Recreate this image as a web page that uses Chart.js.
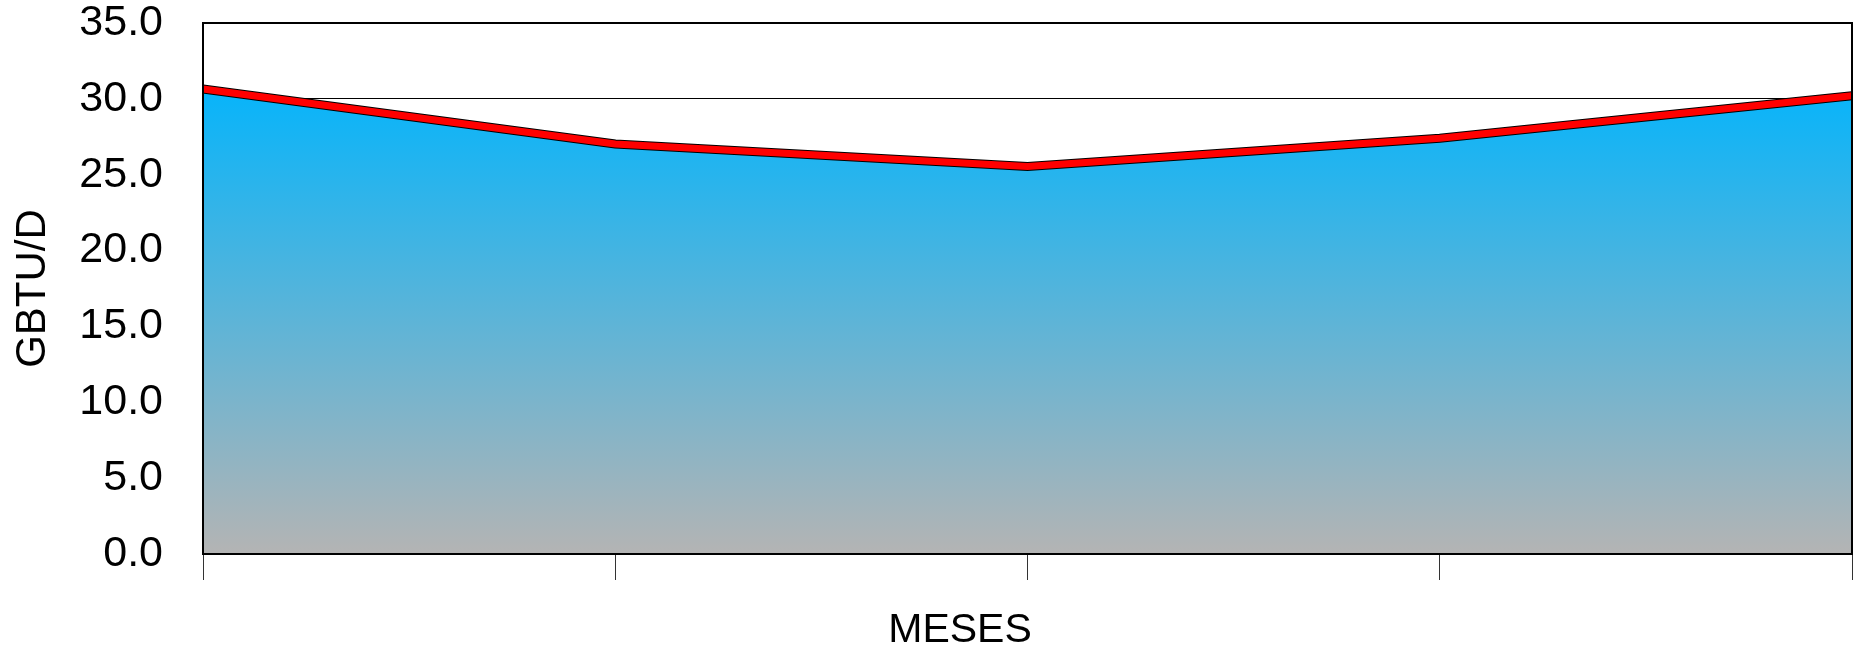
<!DOCTYPE html>
<html lang="es">
<head>
    <meta charset="UTF-8">
    <title>GBTU/D</title>
    <style>
        body { margin: 0; background: #fff; }
    </style>
</head>
<body>
    <canvas id="myChart" width="1863" height="648"></canvas>

    <script src="https://cdn.jsdelivr.net/npm/chart.js"></script>
    <script>
// months are unlabeled in the original
const meses = ['', '', '', '', ''];
const gbtud = [30.65, 27.03, 25.54, 27.4, 30.2];
const yTicks = [0, 5, 10, 15, 20, 25, 30, 35];

const FONT = "'Liberation Sans', Arial, sans-serif";

// gradient blue at top to gray at the base
function areaFill(context) {
    const chart = context.chart;
    const area = chart.chartArea;
    if (!area) return '#3bb3e6';
    const y = chart.scales.y;
    const g = chart.ctx.createLinearGradient(0, y.getPixelForValue(31), 0, area.bottom);
    g.addColorStop(0, '#05b4fb');
    g.addColorStop(1, '#b4b4b4');
    return g;
}

const frame = {
    id: 'frame',
    afterDraw(chart) {
        const c = chart.ctx;
        const a = chart.chartArea;
        c.save();
        c.strokeStyle = '#000';
        c.lineWidth = 2;
        c.strokeRect(a.left, a.top, a.right - a.left, a.bottom - a.top);
        c.fillStyle = '#000';
        c.font = '41px ' + FONT;
        c.textAlign = 'center';
        c.textBaseline = 'alphabetic';
        c.fillText('MESES', 960, 642);
        c.restore();
    }
};

const ctx = document.getElementById('myChart').getContext('2d');
const myChart = new Chart(ctx, {
    type: 'line',
    data: {
        labels: meses,
        datasets: [{
            data: gbtud,
            order: 1,
            borderColor: '#000',
            borderWidth: 9,
            backgroundColor: areaFill,
            fill: 'origin',
            pointRadius: 0,
            tension: 0
        }, {
            data: gbtud,
            order: 0,
            borderColor: '#ff0000',
            borderWidth: 7,
            fill: false,
            pointRadius: 0,
            tension: 0
        }]
    },
    options: {
        responsive: false,
        animation: false,
        layout: { padding: { left: 0, right: 11, top: 23, bottom: 0 } },
        plugins: {
            legend: { display: false },
            tooltip: { enabled: false }
        },
        scales: {
            x: {
                offset: false,
                afterFit(scale) { scale.height = 94; scale.paddingLeft = 0; scale.paddingRight = 0; },
                grid: { drawOnChartArea: false, tickLength: 26, color: '#333', lineWidth: 1 },
                border: { color: '#000', width: 2 },
                ticks: { display: true, font: { size: 1 } }
            },
            y: {
                min: 0,
                max: 35,
                afterFit(scale) { scale.width = 203; scale.paddingTop = 0; scale.paddingBottom = 0; },
                afterBuildTicks(scale) { scale.ticks = yTicks.map(v => ({ value: v })); },
                grid: { color: '#000', lineWidth: 1, drawTicks: false },
                border: { color: '#000', width: 2 },
                ticks: {
                    padding: 40,
                    color: '#000',
                    font: { family: FONT, size: 43 },
                    callback: v => v.toFixed(1)
                },
                title: {
                    display: true,
                    text: 'GBTU/D',
                    color: '#000',
                    font: { family: FONT, size: 42 },
                    padding: { top: 8, bottom: 0 }
                }
            }
        }
    },
    plugins: [frame]
});
    </script>
</body>
</html>
